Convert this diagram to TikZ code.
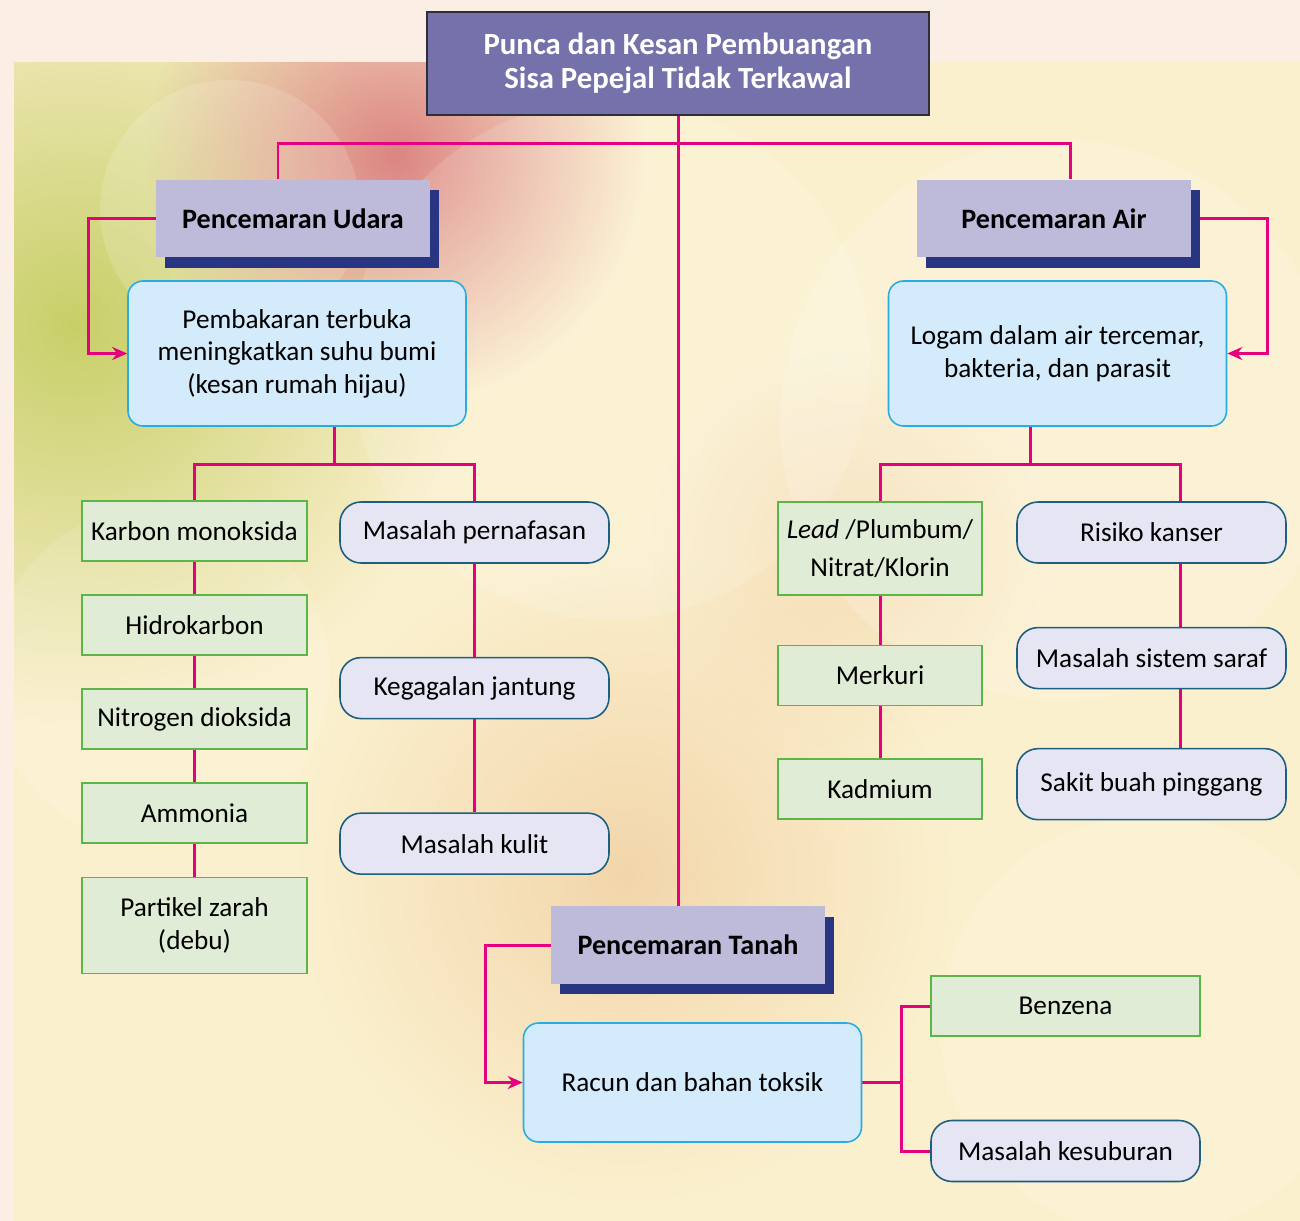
\documentclass[tikz,border=0pt]{standalone}
\usepackage{fontspec}
\setmainfont{Carlito}
\usetikzlibrary{arrows.meta, positioning, calc, shadows, backgrounds, fadings}
\definecolor{pageBg}{HTML}{FBEEE4}
\definecolor{panelBg}{HTML}{FBF0CE}
\definecolor{leafTint}{HTML}{C8CF68}
\definecolor{roseTint}{HTML}{DC8582}
\definecolor{sandTint}{HTML}{EFCB9C}
\definecolor{titleBg}{HTML}{7471AB}
\definecolor{titleBorder}{HTML}{2E2E3A}
\definecolor{headBg}{HTML}{BEBAD9}
\definecolor{headShade}{HTML}{283582}
\definecolor{causeBg}{HTML}{D3EBFA}
\definecolor{causeBorder}{HTML}{2AACE2}
\definecolor{agentBg}{HTML}{E1ECD6}
\definecolor{agentBorder}{HTML}{5BB548}
\definecolor{effectBg}{HTML}{E6E5F4}
\definecolor{effectBorder}{HTML}{1D5F7F}
\definecolor{linkColor}{HTML}{E5007E}

\tikzfading[name=softspot, inner color=transparent!0, outer color=transparent!100]
\pgfdeclarelayer{links}
\pgfsetlayers{background,links,main}

\begin{document}
\begin{tikzpicture}[
    font=\fontsize{15.5}{18.5}\selectfont,
    titlebox/.style={
        draw=titleBorder, line width=1.2pt, fill=titleBg, text=white,
        font=\fontsize{17.5}{19.5}\selectfont\bfseries, align=center,
        minimum width=10.04cm, minimum height=2.06cm
    },
    headbox/.style={
        fill=headBg, font=\fontsize{16}{19}\selectfont\bfseries,
        minimum width=5.48cm, minimum height=1.55cm,
        drop shadow={shadow xshift=0.18cm, shadow yshift=-0.21cm,
                     fill=headShade, opacity=1}
    },
    causebox/.style={
        draw=causeBorder, fill=causeBg, line width=0.9pt,
        rounded corners=0.3cm, align=center,
        minimum width=6.76cm, minimum height=2.9cm
    },
    agentbox/.style={
        draw=agentBorder, fill=agentBg, line width=0.9pt,
        align=center, inner sep=2pt,
        minimum width=4.5cm, minimum height=1.2cm
    },
    effectbox/.style={
        draw=effectBorder, fill=effectBg, line width=0.9pt,
        rounded corners=0.42cm, align=center,
        minimum width=5.38cm, minimum height=1.22cm
    },
    link/.style={linkColor, line width=1.7pt},
    looplink/.style={link, -{Stealth[length=0.3cm, width=0.26cm]}},
]
\useasboundingbox (0,0) rectangle (26,-24.42);

% ============================================================
%  BACKDROP
% ============================================================
\begin{scope}[on background layer]
    \fill[pageBg] (0,0) rectangle (26,-24.42);
    \begin{scope}
        \clip (0.28,-1.24) rectangle (26,-24.42);
        \fill[panelBg] (0.28,-1.24) rectangle (26,-24.42);
        \fill[leafTint, path fading=softspot] (1.5,-6.5) circle (8);
        \fill[roseTint, path fading=softspot] (7.9,-3.1) circle (5);
        \fill[sandTint, opacity=0.7, path fading=softspot] (12.5,-17.5) circle (6.5);
        \fill[sandTint, opacity=0.5, path fading=softspot] (17,-11) circle (4);
        % soft light discs
        \fill[white, opacity=0.15] (4.6,-4.2) circle (2.6);
        \fill[white, opacity=0.14] (12.2,-7.2) circle (5.2);
        \fill[white, opacity=0.18] (21.2,-8.4) circle (5.6);
        \fill[white, opacity=0.12] (3.2,-13.5) circle (3.4);
        \fill[white, opacity=0.12] (23,-20.5) circle (4.2);
    \end{scope}
\end{scope}

% ============================================================
%  TITLE AND THE THREE KINDS OF POLLUTION
% ============================================================
\node[titlebox] (title) at (13.56,-1.27)
    {Punca dan Kesan Pembuangan\\Sisa Pepejal Tidak Terkawal};

\node[headbox] (udara) at (5.86,-4.37) {Pencemaran Udara};
\node[headbox] (air)   at (21.08,-4.37) {Pencemaran Air};
\node[headbox] (tanah) at (13.76,-18.9) {Pencemaran Tanah};

% ============================================================
%  AIR POLLUTION
% ============================================================
\node[causebox] (ublue) at (5.94,-7.07)
    {Pembakaran terbuka\\meningkatkan suhu bumi\\(kesan rumah hijau)};

\node[agentbox] (karbon) at (3.89,-10.62) {Karbon monoksida};
\node[agentbox, below=0.65cm of karbon] (hidro) {Hidrokarbon};
\node[agentbox, below=0.65cm of hidro] (nitro) {Nitrogen dioksida};
\node[agentbox, below=0.65cm of nitro] (ammonia) {Ammonia};
\node[agentbox, below=0.65cm of ammonia, minimum height=1.92cm] (partikel)
    {Partikel zarah\\(debu)};

\node[effectbox] (nafas) at (9.49,-10.65) {Masalah pernafasan};
\node[effectbox, below=1.86cm of nafas] (jantung) {Kegagalan jantung};
\node[effectbox, below=1.86cm of jantung] (kulit) {Masalah kulit};

% ============================================================
%  WATER POLLUTION
% ============================================================
\node[causebox] (ablue) at (21.15,-7.07)
    {Logam dalam air tercemar,\\bakteria, dan parasit};

\node[agentbox, minimum width=4.08cm, minimum height=1.86cm] (lead)
    at (17.6,-10.97) {\textit{Lead} /Plumbum/\\[3pt]Nitrat/Klorin};
\node[agentbox, minimum width=4.08cm, below=0.98cm of lead] (merkuri) {Merkuri};
\node[agentbox, minimum width=4.08cm, below=1.04cm of merkuri] (kadmium) {Kadmium};

\node[effectbox] (risiko) at (23.03,-10.65) {Risiko kanser};
\node[effectbox, below=1.26cm of risiko] (saraf) {Masalah sistem saraf};
\node[effectbox, below=1.17cm of saraf, minimum height=1.42cm] (pinggang)
    {Sakit buah pinggang};

% ============================================================
%  LAND POLLUTION
% ============================================================
\node[causebox, minimum height=2.38cm] (tblue) at (13.85,-21.65)
    {Racun dan bahan toksik};

\node[agentbox, minimum width=5.38cm] (benzena) at (21.31,-20.12) {Benzena};
\node[effectbox] (subur) at (21.31,-23.02) {Masalah kesuburan};

% ============================================================
%  CONNECTORS
% ============================================================
\begin{pgfonlayer}{links}
    % trunk and top bar
    \coordinate (topbar) at ($(title.south)+(0,-0.54)$);
    \draw[link] (title.south) -- (title.south |- tanah.north);
    \draw[link] ([xshift=-0.3cm]udara.north) |- (topbar)
        -| ([xshift=0.32cm]air.north);

    % loops into the cause boxes
    \draw[looplink] (udara.west) -- ++(-1.34,0) |- (ublue.west);
    \draw[looplink] (air.east) -- ++(1.52,0) |- (ablue.east);
    \draw[looplink] (tanah.west) -- ++(-1.3,0) |- (tblue.west);

    % air branches
    \coordinate (ufork) at ($(karbon.north)!0.5!(nafas.north)+(0,0.72)$);
    \draw[link] (ufork |- ublue.south) -- (ufork);
    \draw[link] (karbon.north) |- (ufork) -| (nafas.north);
    \draw[link] (karbon) -- (hidro) -- (nitro) -- (ammonia) -- (partikel);
    \draw[link] (nafas) -- (jantung) -- (kulit);

    % water branches
    \coordinate (rline) at ([xshift=0.57cm]risiko.north);
    \coordinate (afork) at ($(lead.north)!0.5!(rline)+(0,0.74)$);
    \draw[link] (afork |- ablue.south) -- (afork);
    \draw[link] (lead.north) |- (afork) -| (rline);
    \draw[link] (lead) -- (merkuri) -- (kadmium);
    \draw[link] ([xshift=0.57cm]risiko.south) -- ([xshift=0.57cm]saraf.north);
    \draw[link] ([xshift=0.57cm]saraf.south) -- ([xshift=0.57cm]pinggang.north);

    % land branches
    \draw[link] (tblue.east) -- ++(0.78,0) coordinate (tfork);
    \draw[link] (benzena.west) -| (tfork) |- (subur.west);
\end{pgfonlayer}

\end{tikzpicture}
\end{document}
